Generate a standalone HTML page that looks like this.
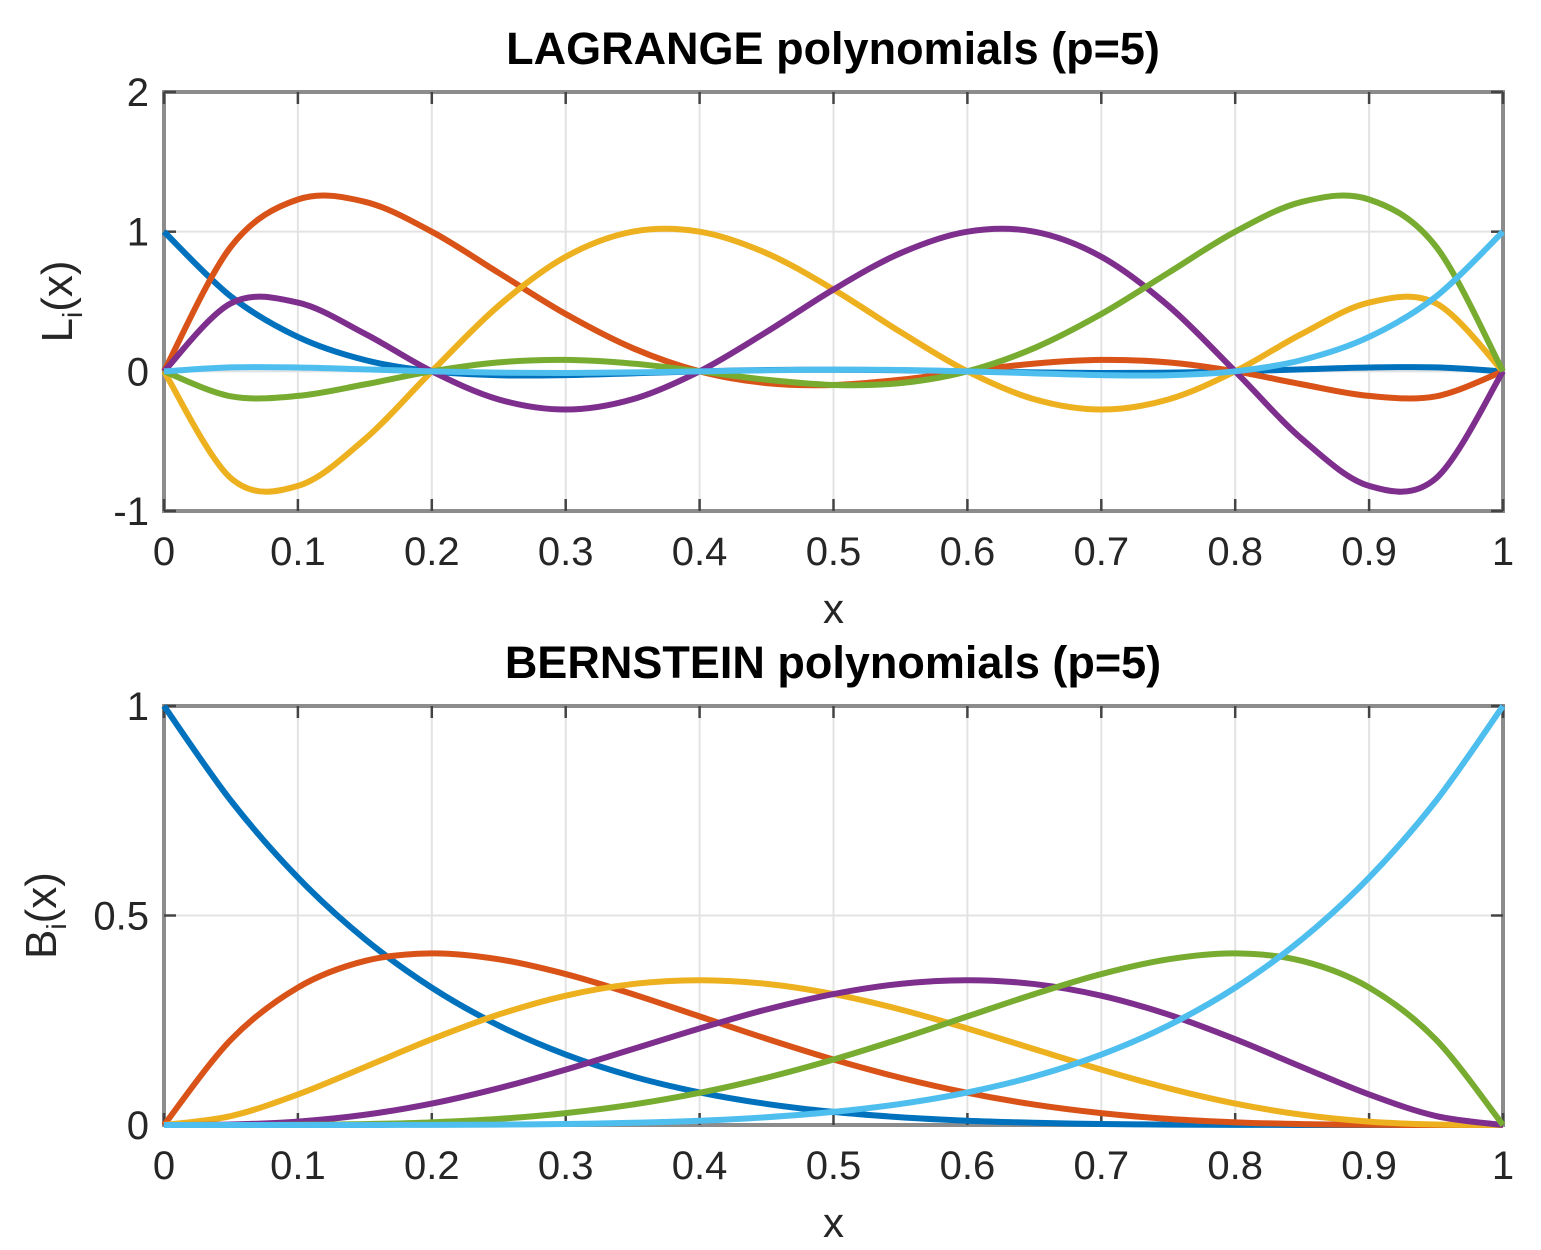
<!DOCTYPE html>
<html><head><meta charset="utf-8"><style>
html,body{margin:0;padding:0;background:#fff;}
svg{display:block;font-family:"Liberation Sans",Arial,sans-serif;}
</style></head><body>
<svg id="fig" width="1541" height="1250" viewBox="0 0 1541 1250"></svg>
<script>
// x samples (step 0.05)
const xs = [0,0.05,0.1,0.15,0.2,0.25,0.3,0.35,0.4,0.45,0.5,0.55,0.6,0.65,0.7,0.75,0.8,0.85,0.9,0.95,1];
const xTicks = [0,0.1,0.2,0.3,0.4,0.5,0.6,0.7,0.8,0.9,1];
const xTickLabels = ["0","0.1","0.2","0.3","0.4","0.5","0.6","0.7","0.8","0.9","1"];
// Lagrange series
const lag0 = [1,0.5358,0.2461,0.0809,0,-0.0282,-0.0273,-0.0143,0,0.0094,0.0117,0.0077,0,-0.0077,-0.0117,-0.0094,0,0.0143,0.0273,0.0282,0];
const lag1 = [0,0.8929,1.2305,1.2140,1,0.7050,0.4102,0.1666,0,-0.0846,-0.0977,-0.0604,0,0.0555,0.0820,0.0641,0,-0.0934,-0.1758,-0.1786,0];
const lag2 = [0,-0.7654,-0.8203,-0.4856,0,0.4700,0.8203,0.9998,1,0.8459,0.5859,0.2820,0,-0.2000,-0.2734,-0.2014,0,0.2698,0.4922,0.4871,0];
const lag3 = [0,0.4871,0.4922,0.2698,0,-0.2014,-0.2734,-0.2000,0,0.2820,0.5859,0.8459,1,0.9998,0.8203,0.4700,0,-0.4856,-0.8203,-0.7654,0];
const lag4 = [0,-0.1786,-0.1758,-0.0934,0,0.0641,0.0820,0.0555,0,-0.0604,-0.0977,-0.0846,0,0.1666,0.4102,0.7050,1,1.2140,1.2305,0.8929,0];
const lag5 = [0,0.0282,0.0273,0.0143,0,-0.0094,-0.0117,-0.0077,0,0.0077,0.0117,0.0094,0,-0.0143,-0.0273,-0.0282,0,0.0809,0.2461,0.5358,1];
const lagTicks = [-1,0,1,2];
const lagTickLabels = ["-1","0","1","2"];
// Bernstein series
const ber0 = [1,0.7738,0.5905,0.4437,0.3277,0.2373,0.1681,0.1160,0.0778,0.0503,0.03125,0.0185,0.0102,0.0053,0.0024,0.0010,0.0003,0.0001,0,0,0];
const ber1 = [0,0.2036,0.3281,0.3915,0.4096,0.3955,0.3602,0.3124,0.2592,0.2059,0.15625,0.1128,0.0768,0.0488,0.0284,0.0146,0.0064,0.0022,0.0005,0,0];
const ber2 = [0,0.0214,0.0729,0.1382,0.2048,0.2637,0.3087,0.3364,0.3456,0.3369,0.3125,0.2757,0.2304,0.1811,0.1323,0.0879,0.0512,0.0244,0.0081,0.0011,0];
const ber3 = [0,0.0011,0.0081,0.0244,0.0512,0.0879,0.1323,0.1811,0.2304,0.2757,0.3125,0.3369,0.3456,0.3364,0.3087,0.2637,0.2048,0.1382,0.0729,0.0214,0];
const ber4 = [0,0,0.0005,0.0022,0.0064,0.0146,0.0284,0.0488,0.0768,0.1128,0.15625,0.2059,0.2592,0.3124,0.3602,0.3955,0.4096,0.3915,0.3281,0.2036,0];
const ber5 = [0,0,0,0.0001,0.0003,0.0010,0.0024,0.0053,0.0102,0.0185,0.03125,0.0503,0.0778,0.1160,0.1681,0.2373,0.3277,0.4437,0.5905,0.7738,1];
const berTicks = [0,0.5,1];
const berTickLabels = ["0","0.5","1"];

const colors = ["#0072BD","#D95319","#EDB120","#7E2F8E","#77AC30","#4DBEEE"];
const NS = "http://www.w3.org/2000/svg";
const svg = document.getElementById('fig');
function mk(tag, attrs, parent){
  const e = document.createElementNS(NS, tag);
  for (const k in attrs) e.setAttribute(k, attrs[k]);
  (parent||svg).appendChild(e);
  return e;
}
function drawPanel(cfg){
  const L=164, R=1503, T=cfg.top, B=cfg.bottom;
  const sx = v => L + (v-0)*(R-L);
  const sy = v => B - (v-cfg.ymin)/(cfg.ymax-cfg.ymin)*(B-T);
  const g = mk('g', {});
  
  
  xTicks.forEach(t=>{
    const l = mk('line',{x1:sx(t),x2:sx(t),y1:T,y2:B,stroke:'#e3e3e3','stroke-width':2},g);
    
    
  });
  cfg.yTicks.forEach(t=>{
    const l = mk('line',{x1:L,x2:R,y1:sy(t),y2:sy(t),stroke:'#e3e3e3','stroke-width':2},g);
    
    
  });
  const box = mk('rect',{x:L,y:T,width:R-L,height:B-T,fill:'none',stroke:'#8c8c8c','stroke-width':4},g);
  
  
  xTicks.forEach((t,i)=>{
    mk('line',{x1:sx(t),x2:sx(t),y1:B,y2:B-12,stroke:'#444','stroke-width':2.5},g);
    mk('line',{x1:sx(t),x2:sx(t),y1:T,y2:T+12,stroke:'#444','stroke-width':2.5},g);
    const tx = mk('text',{x:sx(t),y:B+54,'font-size':40,'text-anchor':'middle',fill:'#262626'},g);
    tx.textContent = xTickLabels[i];
    
    
  });
  cfg.yTicks.forEach((t,i)=>{
    mk('line',{x1:L,x2:L+12,y1:sy(t),y2:sy(t),stroke:'#444','stroke-width':2.5},g);
    mk('line',{x1:R,x2:R-12,y1:sy(t),y2:sy(t),stroke:'#444','stroke-width':2.5},g);
    const ty = mk('text',{x:L-15,y:sy(t)+14,'font-size':40,'text-anchor':'end',fill:'#262626'},g);
    ty.textContent = cfg.yTickLabels[i];
    
    
  });
  cfg.series.forEach((s,i)=>{
    const pts = xs.map((x,j)=>[sx(x), sy(s[j])]);
    let d = 'M'+pts[0][0].toFixed(2)+','+pts[0][1].toFixed(2);
    for (let j=0;j<pts.length-1;j++){
      const p0 = pts[Math.max(j-1,0)], p1=pts[j], p2=pts[j+1], p3=pts[Math.min(j+2,pts.length-1)];
      const c1x = p1[0]+(p2[0]-p0[0])/6, c1y = p1[1]+(p2[1]-p0[1])/6;
      const c2x = p2[0]-(p3[0]-p1[0])/6, c2y = p2[1]-(p3[1]-p1[1])/6;
      d += ' C'+c1x.toFixed(2)+','+c1y.toFixed(2)+' '+c2x.toFixed(2)+','+c2y.toFixed(2)+' '+p2[0].toFixed(2)+','+p2[1].toFixed(2);
    }
    const p = mk('path',{d:d,fill:'none',stroke:colors[i],'stroke-width':6,'stroke-linejoin':'round'},g);
    
    
  });
  const title = mk('text',{x:833,y:T-28,'font-size':45,'font-weight':'bold','text-anchor':'middle',fill:'#000'},g);
  title.textContent = cfg.title;
  
  
  const xl = mk('text',{x:(L+R)/2,y:B+112,'font-size':42,'text-anchor':'middle',fill:'#262626'},g);
  xl.textContent = 'x';
  
  
  const yl = mk('text',{x:0,y:0,'font-size':44,'text-anchor':'middle',fill:'#262626',transform:'translate('+cfg.ylx+','+((T+B)/2)+') rotate(-90)'},g);
  yl.innerHTML = cfg.ylab+'<tspan font-size="28" dy="10">i</tspan><tspan dy="-10">(x)</tspan>';
  
  
}
drawPanel({name:'lagrange-panel',prefix:'lagrange',top:92,bottom:511,ymin:-1,ymax:2,yTicks:lagTicks,yTickLabels:lagTickLabels,
  series:[lag0,lag1,lag2,lag3,lag4,lag5],title:'LAGRANGE polynomials (p=5)',ylab:'L',ylx:72});
drawPanel({name:'bernstein-panel',prefix:'bernstein',top:706,bottom:1125,ymin:0,ymax:1,yTicks:berTicks,yTickLabels:berTickLabels,
  series:[ber0,ber1,ber2,ber3,ber4,ber5],title:'BERNSTEIN polynomials (p=5)',ylab:'B',ylx:56});
</script>
</body></html>
